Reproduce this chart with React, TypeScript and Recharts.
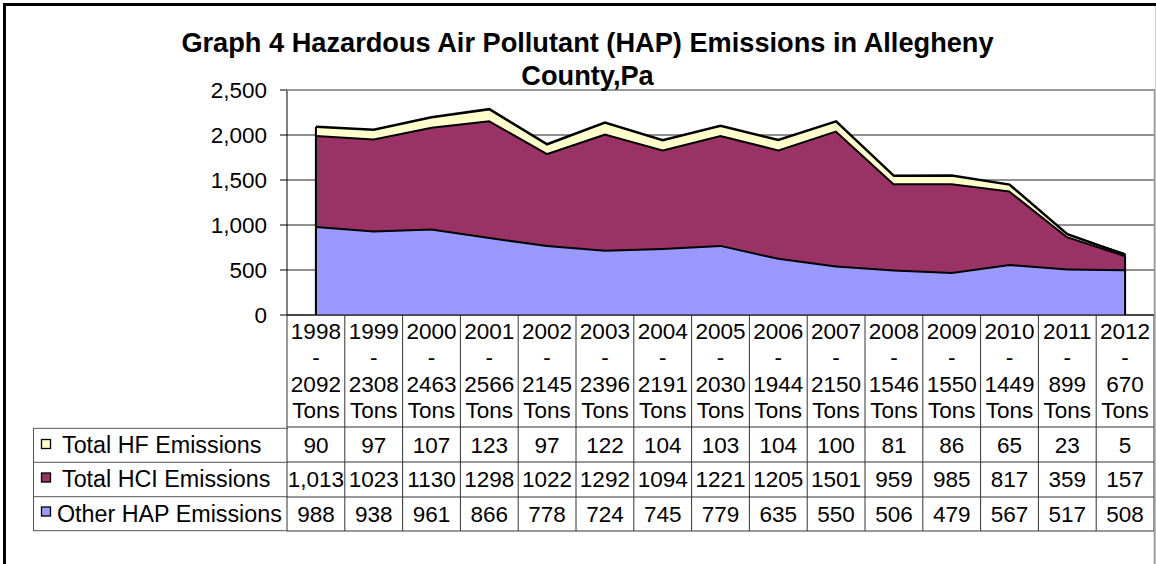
import React from 'react';
import { AreaChart, Area, XAxis, YAxis, CartesianGrid, ReferenceLine, Legend } from 'recharts';

const years = ['1998', '1999', '2000', '2001', '2002', '2003', '2004', '2005', '2006', '2007', '2008', '2009', '2010', '2011', '2012'];
const totalTonsLabels = ['2092', '2308', '2463', '2566', '2145', '2396', '2191', '2030', '1944', '2150', '1546', '1550', '1449', '899', '670'];
const hfEmissions = [90, 97, 107, 123, 97, 122, 104, 103, 104, 100, 81, 86, 65, 23, 5];
const hclEmissions = [1013, 1023, 1130, 1298, 1022, 1292, 1094, 1221, 1205, 1501, 959, 985, 817, 359, 157];
const otherHapEmissions = [988, 938, 961, 866, 778, 724, 745, 779, 635, 550, 506, 479, 567, 517, 508];
const hfTableLabels = ['90', '97', '107', '123', '97', '122', '104', '103', '104', '100', '81', '86', '65', '23', '5'];
const hclTableLabels = ['1,013', '1023', '1130', '1298', '1022', '1292', '1094', '1221', '1205', '1501', '959', '985', '817', '359', '157'];
const otherTableLabels = ['988', '938', '961', '866', '778', '724', '745', '779', '635', '550', '506', '479', '567', '517', '508'];
const yTicks = [0, 500, 1000, 1500, 2000, 2500];

const titleLines = ['Graph 4 Hazardous Air Pollutant (HAP) Emissions in Allegheny', 'County,Pa'];

const series = [
  { key: 'other', name: 'Other HAP Emissions', color: '#9999FF', width: 4 },
  { key: 'hcl', name: 'Total HCI Emissions', color: '#993366', width: 4 },
  { key: 'hf', name: 'Total HF Emissions', color: '#FFFFCC', width: 2.5 },
];

const data = years.map((year, i) => ({
  year,
  other: otherHapEmissions[i],
  hcl: hclEmissions[i],
  hf: hfEmissions[i],
}));

const totals = years.map((_, i) => otherHapEmissions[i] + hclEmissions[i] + hfEmissions[i]);

const W = 1156;
const H = 564;
const PLOT_LEFT = 287;
const PLOT_RIGHT_MARGIN = 2;
const PLOT_TOP = 90;
const PLOT_H = 225;
const COL = (W - PLOT_LEFT - PLOT_RIGHT_MARGIN) / years.length;
const FONT = '"Liberation Sans", Arial, Helvetica, sans-serif';
const GRID = '#333';

const tableLabelsByKey: Record<string, string[]> = {
  hf: hfTableLabels,
  hcl: hclTableLabels,
  other: otherTableLabels,
};

function TableTick(props: any) {
  const { x, y, payload } = props;
  const i = years.indexOf(String(payload.value));
  const left = x - COL / 2;
  const right = x + COL / 2;
  const txt = { fontFamily: FONT, fontSize: 22.5, fill: '#000', textAnchor: 'middle' as const };
  const hLines = [112, 147, 182, 216];
  const header = [years[i], '-', totalTonsLabels[i], 'Tons'];
  const headerY = [24, 50.3, 76.8, 103];
  const rows = ['hf', 'hcl', 'other'];
  const rowY = [138, 172, 206.5];
  return (
    <g>
      <line x1={left} x2={left} y1={y} y2={y + 216} stroke={GRID} strokeWidth={1} />
      {i === years.length - 1 && (
        <line x1={right} x2={right} y1={y} y2={y + 216} stroke={GRID} strokeWidth={1} />
      )}
      {hLines.map((dy) => (
        <line key={dy} x1={left} x2={right} y1={y + dy} y2={y + dy} stroke={GRID} strokeWidth={1} />
      ))}
      {header.map((t, k) => (
        <text key={'h' + k} x={x} y={y + headerY[k]} {...txt}>
          {t}
        </text>
      ))}
      {rows.map((key, k) => (
        <text key={key} x={x} y={y + rowY[k]} {...txt}>
          {tableLabelsByKey[key][i]}
        </text>
      ))}
    </g>
  );
}

function TableLegend(props: any) {
  const payload: any[] = (props.payload || []).slice().reverse();
  const rowLines = [1.3, 35.3, 69.7, 103.7];
  const textY = [26, 60, 94.7];
  const markY = [12.5, 46, 80];
  const textX = [29, 29, 24];
  return (
    <svg width={255} height={106} style={{ display: 'block', overflow: 'visible' }}>
      <line x1={0.5} x2={0.5} y1={rowLines[0]} y2={rowLines[3]} stroke="#555" />
      {rowLines.map((ly) => (
        <line key={ly} x1={0} x2={255} y1={ly} y2={ly} stroke="#555" />
      ))}
      {payload.map((entry, k) => {
        const s = series.find((ss) => ss.key === entry.dataKey) || series[k];
        return (
          <g key={s.key}>
            <rect x={8.5} y={markY[k]} width={9} height={9} fill={s.color} stroke="#000" strokeWidth={1.3} />
            <text x={textX[k]} y={textY[k]} fontFamily={FONT} fontSize={23.3} fill="#000">
              {entry.value}
            </text>
          </g>
        );
      })}
    </svg>
  );
}

export default function App() {
  return (
    <div style={{ position: 'absolute', left: 0, top: 0, width: W, height: H, background: '#fff' }}>
      <AreaChart
        width={W}
        height={H}
        data={data}
        margin={{ top: PLOT_TOP, right: PLOT_RIGHT_MARGIN, bottom: 0, left: 0 }}
      >
        <CartesianGrid vertical={false} stroke="#222" strokeWidth={1} />
        <XAxis
          dataKey="year"
          height={H - PLOT_TOP - PLOT_H}
          interval={0}
          tick={(p: any) => <TableTick {...p} />}
          tickLine={false}
          tickSize={0}
          tickMargin={0}
          axisLine={{ stroke: '#000', strokeWidth: 1 }}
          padding={{ left: COL / 2, right: COL / 2 }}
        />
        <YAxis
          width={PLOT_LEFT}
          domain={[0, 2500]}
          ticks={yTicks}
          interval={0}
          tickFormatter={(v: number) => v.toLocaleString('en-US')}
          tick={{ fontSize: 22.5, fill: '#000', fontFamily: FONT }}
          tickSize={7}
          tickMargin={13}
          axisLine={{ stroke: '#000', strokeWidth: 1 }}
          tickLine={{ stroke: '#000', strokeWidth: 1 }}
        />
        {series.map((s) => (
          <Area
            key={s.key}
            type="linear"
            dataKey={s.key}
            name={s.name}
            stackId="hap"
            fill={s.color}
            fillOpacity={1}
            stroke="#000"
            strokeWidth={s.width}
            dot={false}
            activeDot={false}
            isAnimationActive={false}
          />
        ))}
        <ReferenceLine
          segment={[{ x: years[0], y: 0 }, { x: years[0], y: totals[0] }]}
          stroke="#000"
          strokeWidth={2}
        />
        <ReferenceLine
          segment={[
            { x: years[years.length - 1], y: 0 },
            { x: years[years.length - 1], y: totals[totals.length - 1] },
          ]}
          stroke="#000"
          strokeWidth={2}
        />
        <Legend
          layout="horizontal"
          verticalAlign="middle"
          align="center"
          content={(p: any) => <TableLegend {...p} />}
          wrapperStyle={{ left: 33, top: 427, width: 255, height: 106 }}
        />
      </AreaChart>
      <svg
        width={W}
        height={H}
        style={{ position: 'absolute', left: 0, top: 0, pointerEvents: 'none' }}
      >
        <rect x={3} y={3} width={W - 3} height={3} fill="#000" />
        <rect x={3} y={3} width={3} height={H - 3} fill="#000" />
        <line x1={W - 0.5} x2={W - 0.5} y1={6} y2={H} stroke="#ccc" />
        <line x1={PLOT_LEFT} x2={W - 1} y1={PLOT_TOP} y2={PLOT_TOP} stroke="#999" strokeWidth={2} />
        <line x1={W - 1.5} x2={W - 1.5} y1={PLOT_TOP - 1} y2={H} stroke="#999" strokeWidth={1.5} />
        {titleLines.map((t, k) => (
          <text
            key={k}
            x={587.5}
            y={51.5 + k * 33}
            textAnchor="middle"
            fontFamily={FONT}
            fontWeight="bold"
            fontSize={27.2}
            fill="#000"
          >
            {t}
          </text>
        ))}
      </svg>
    </div>
  );
}
